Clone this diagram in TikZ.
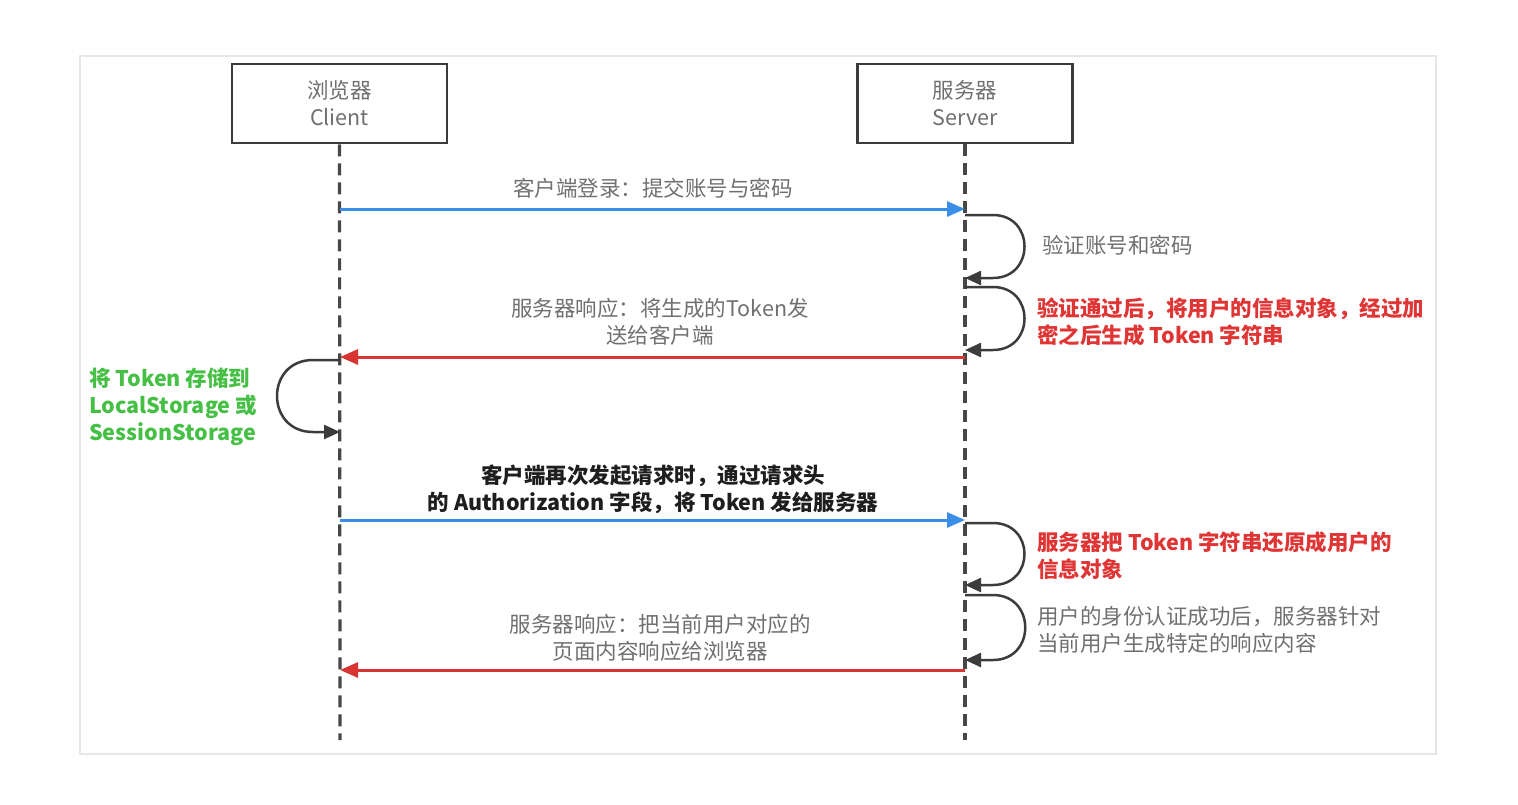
\documentclass[tikz,border=0pt]{standalone}
\usepackage{fontspec}
\setmainfont{Noto Sans CJK SC}
\usetikzlibrary{arrows.meta}
\definecolor{txtgray}{HTML}{707070}
\definecolor{boxline}{HTML}{3C3C3C}
\definecolor{lifegray}{HTML}{474747}
\definecolor{msgblue}{HTML}{3A8EE6}
\definecolor{msgred}{HTML}{D93434}
\definecolor{txtred}{HTML}{E03535}
\definecolor{txtgreen}{HTML}{45C045}
\definecolor{txtblack}{HTML}{1E1E1E}
\definecolor{panelline}{HTML}{E6E6E6}
\newcommand{\lblfont}{\fontsize{21.5}{27}\selectfont}
\tikzset{
  actor/.style={draw=boxline, line width=2.5pt, fill=white, minimum width=215pt, minimum height=79pt, align=center, text=txtgray, inner sep=0pt},
  life/.style={draw=lifegray, line width=3.2pt, dash pattern=on 12pt off 7pt},
  msgb/.style={draw=msgblue, line width=3pt, -{Triangle[length=18pt,width=15pt]}},
  msgr/.style={draw=msgred, line width=3pt, -{Triangle[length=18pt,width=15pt]}},
  selfloop/.style={draw=boxline, line width=2.5pt, -{Triangle[length=16pt,width=14pt]}},
  lbl/.style={align=center, text=txtgray, inner sep=0pt},
  note/.style={align=left, text=txtgray, inner sep=0pt, anchor=west},
  boldtxt/.style={font=\lblfont\bfseries},
}
\begin{document}
\begin{tikzpicture}[x=1pt,y=-1pt, font=\lblfont]
\useasboundingbox (0,0) rectangle (1518,804);
\fill[white] (0,0) rectangle (1518,804);
\draw[panelline, line width=1.5pt] (80,56) rectangle (1436,754);

% actors
\node[actor] (client) at (339.5,103.5) {浏览器\\Client};
\node[actor] (server) at (965,103.5) {服务器\\Server};

% lifelines
\coordinate (cEnd) at (340,740);
\coordinate (sEnd) at (965,740);
\draw[life] (client.south) -- (cEnd);
\draw[life] (server.south) -- (sEnd);

% message 1
\coordinate (c1) at (340,209);
\coordinate (s1) at (965,209);
\draw[msgb] (c1) -- (s1);
\node[lbl] (m1) at (653,188) {客户端登录：提交账号与密码};

% server loop 1
\coordinate (l1a) at (965,215);
\coordinate (l1b) at (965,278);
\draw[selfloop] (l1a) -- ([xshift=28pt]l1a) .. controls +(42,0) and +(42,0) .. ([xshift=28pt]l1b) -- (l1b);
\node[note] (n1) at (1042,245) {验证账号和密码};

% server loop 2
\coordinate (l2a) at (965,287);
\coordinate (l2b) at (965,350);
\draw[selfloop] (l2a) -- ([xshift=28pt]l2a) .. controls +(42,0) and +(42,0) .. ([xshift=28pt]l2b) -- (l2b);
\node[note, text=txtred, boldtxt] (n2) at (1037,321.5) {验证通过后，将用户的信息对象，经过加\\密之后生成 Token 字符串};

% message 2
\coordinate (s2) at (965,357);
\coordinate (c2) at (340,357);
\draw[msgr] (s2) -- (c2);
\node[lbl] (m2) at (660,321.5) {服务器响应：将生成的Token发\\送给客户端};

% client loop
\coordinate (l3a) at (340,360);
\coordinate (l3b) at (340,432);
\draw[selfloop] (l3a) -- ([xshift=-27pt]l3a) .. controls +(-48,0) and +(-48,0) .. ([xshift=-27pt]l3b) -- (l3b);
\node[note, text=txtgreen, boldtxt] (n3) at (89,407) {将 Token 存储到\\LocalStorage 或\\SessionStorage};

% message 3
\coordinate (c3) at (340,520);
\coordinate (s3) at (965,520);
\draw[msgb] (c3) -- (s3);
\node[lbl, text=txtblack, boldtxt] (m3) at (653,489) {客户端再次发起请求时，通过请求头\\的 Authorization 字段，将 Token 发给服务器};

% server loop 3
\coordinate (l4a) at (965,523);
\coordinate (l4b) at (965,585);
\draw[selfloop] (l4a) -- ([xshift=28pt]l4a) .. controls +(42,0) and +(42,0) .. ([xshift=28pt]l4b) -- (l4b);
\node[note, text=txtred, boldtxt] (n4) at (1037,555.5) {服务器把 Token 字符串还原成用户的\\信息对象};

% server loop 4
\coordinate (l5a) at (965,595);
\coordinate (l5b) at (965,660);
\draw[selfloop] (l5a) -- ([xshift=28pt]l5a) .. controls +(43,0) and +(43,0) .. ([xshift=28pt]l5b) -- (l5b);
\node[note] (n5) at (1037,630) {用户的身份认证成功后，服务器针对\\当前用户生成特定的响应内容};

% message 4
\coordinate (s4) at (965,670);
\coordinate (c4) at (340,670);
\draw[msgr] (s4) -- (c4);
\node[lbl] (m4) at (660,638) {服务器响应：把当前用户对应的\\页面内容响应给浏览器};
\end{tikzpicture}
\end{document}
